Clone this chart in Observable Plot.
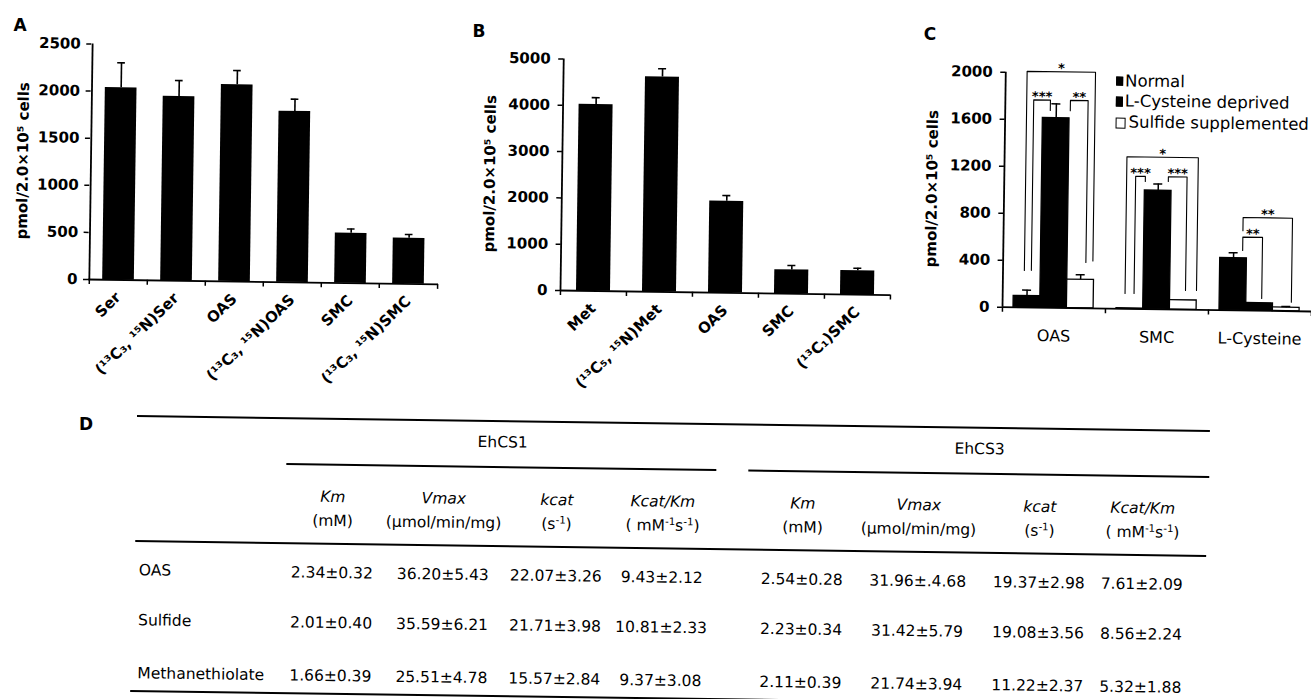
<!DOCTYPE html>
<html>
<head>
<meta charset="utf-8">
<script src="https://cdn.jsdelivr.net/npm/d3@7"></script>
<script src="https://cdn.jsdelivr.net/npm/@observablehq/plot@0.6"></script>
<style>
html, body { margin:0; padding:0; background:#fff; }
#fig { position:relative; width:1311px; height:699px; overflow:hidden; background:#fff; color:#000;
       font-family:"DejaVu Sans","Liberation Sans",sans-serif; }
.panel { position:absolute; }
.abs { position:absolute; white-space:nowrap; line-height:1; }
.rule { position:absolute; background:#000; }
.sw { position:absolute; box-sizing:border-box; }
sup { font-size:0.66em; vertical-align:0.55em; line-height:0; }
.letter { position:absolute; font-weight:bold; font-size:17px; line-height:1; transform:translate(-50%,-50%); }
</style>
</head>
<body>
<div id="fig"></div>
<script>
// ---------------- DATA ----------------
// Panel A
const catsA = ["Ser", "(¹³C₃, ¹⁵N)Ser", "OAS", "(¹³C₃, ¹⁵N)OAS", "SMC", "(¹³C₃, ¹⁵N)SMC"];
const valsA = [2040, 1955, 2090, 1815, 530, 485];
const errsA = [265, 170, 150, 130, 45, 40];
const ticksA = [0, 500, 1000, 1500, 2000, 2500];
// Panel B
const catsB = ["Met", "(¹³C₅, ¹⁵N)Met", "OAS", "SMC", "(¹³C₁)SMC"];
const valsB = [4030, 4640, 1980, 515, 515];
const errsB = [145, 180, 120, 95, 55];
const ticksB = [0, 1000, 2000, 3000, 4000, 5000];
// Panel C
const groupsC = ["OAS", "SMC", "L-Cysteine"];
const seriesC = ["Normal", "L-Cysteine deprived", "Sulfide supplemented"];
const normalC = [98, 5, 445];
const normalErrC = [50, 0, 46];
const deprivedC = [1615, 1010, 65];
const deprivedErrC = [122, 57, 0];
const sulfideC = [243, 80, 30];
const sulfideErrC = [42, 0, 10];
const ticksC = [0, 400, 800, 1200, 1600, 2000];
const bracketsC = [
  {group: "OAS", from: "Normal", to: "Sulfide supplemented", top: 2010, leftEnd: 315, rightEnd: 405, label: "*"},
  {group: "OAS", from: "Normal", to: "L-Cysteine deprived", top: 1768, leftEnd: 317, rightEnd: 1680, label: "***"},
  {group: "OAS", from: "L-Cysteine deprived", to: "Sulfide supplemented", top: 1768, leftEnd: 1680, rightEnd: 390, label: "**"},
  {group: "SMC", from: "Normal", to: "Sulfide supplemented", top: 1295, leftEnd: 131, rightEnd: 165, label: "*"},
  {group: "SMC", from: "Normal", to: "L-Cysteine deprived", top: 1130, leftEnd: 133, rightEnd: 1087, label: "***"},
  {group: "SMC", from: "L-Cysteine deprived", to: "Sulfide supplemented", top: 1130, leftEnd: 1089, rightEnd: 164, label: "***"},
  {group: "L-Cysteine", from: "Normal", to: "Sulfide supplemented", top: 792, leftEnd: 680, rightEnd: 77, label: "**"},
  {group: "L-Cysteine", from: "Normal", to: "L-Cysteine deprived", top: 625, leftEnd: 511, rightEnd: 105, label: "**"}
];
const yLabel = "pmol/2.0×10⁵ cells";
// Panel D (table)
const substrates = ["OAS", "Sulfide", "Methanethiolate"];
const enzymes = ["EhCS1", "EhCS3"];
const paramNames = ["Km", "Vmax", "kcat", "Kcat/Km"];
const paramUnits = ["(mM)", "(μmol/min/mg)", "(s<sup>-1</sup>)", "( mM<sup>-1</sup>s<sup>-1</sup>)"];
const kineticsEhCS1 = [
  ["2.34±0.32", "36.20±5.43", "22.07±3.26", "9.43±2.12"],
  ["2.01±0.40", "35.59±6.21", "21.71±3.98", "10.81±2.33"],
  ["1.66±0.39", "25.51±4.78", "15.57±2.84", "9.37±3.08"]
];
const kineticsEhCS3 = [
  ["2.54±0.28", "31.96±.4.68", "19.37±2.98", "7.61±2.09"],
  ["2.23±0.34", "31.42±5.79", "19.08±3.56", "8.56±2.24"],
  ["2.11±0.39", "21.74±3.94", "11.22±2.37", "5.32±1.88"]
];

// ---------------- LAYOUT / STYLE ----------------
const FONT = '"DejaVu Sans","Liberation Sans",sans-serif';
const ROT = 0.8; // slight tilt of the scanned original
const fig = document.getElementById("fig");
// bracket leg nudges in px (left leg, right leg) relative to bar centres
const bracketNudgePx = [[-3, 12], [4, -6], [14, 5], [-5, 13], [4, -13], [10, 2], [9, 5], [9, 2]];
const axisStyle = {background: "transparent", overflow: "visible", fontFamily: FONT, fontSize: "15px", fontWeight: "bold", color: "#000"};

function mount(node, left, top, w, h, ox, oy) {
  const div = document.createElement("div");
  div.className = "panel";
  Object.assign(div.style, {
    left: left + "px", top: top + "px", width: w + "px", height: h + "px",
    transformOrigin: (ox - left) + "px " + (oy - top) + "px",
    transform: "rotate(" + ROT + "deg)"
  });
  if (node) div.appendChild(node);
  fig.appendChild(div);
  return div;
}

function letter(t, x, y) {
  const d = document.createElement("div");
  d.className = "letter"; d.textContent = t;
  d.style.left = x + "px"; d.style.top = y + "px";
  fig.appendChild(d);
}

function barPanel(cfg) {
  const {cats, vals, errs, ticks, w, h, ml, mr, mt, mb, barW, capW, labelDx, tickPad} = cfg;
  const data = cats.map((c, i) => ({cat: c, value: vals[i], err: errs[i]}));
  const bw = (w - ml - mr) / cats.length;
  const ymax = ticks[ticks.length - 1];
  const inset = (bw - barW) / 2, capInset = (bw - capW) / 2;
  return Plot.plot({
    width: w, height: h, marginLeft: ml, marginRight: mr, marginTop: mt, marginBottom: mb,
    style: axisStyle,
    x: {type: "band", domain: cats, padding: 0, label: null},
    y: {domain: [0, ymax], label: null},
    marks: [
      Plot.barY(data, {x: "cat", y: "value", fill: "#000", insetLeft: inset, insetRight: inset}),
      Plot.ruleX(data, {x: "cat", y1: "value", y2: d => d.value + d.err, stroke: "#000", strokeWidth: 1.6}),
      Plot.tickY(data, {x: "cat", y: d => d.value + d.err, stroke: "#000", strokeWidth: 1.6, insetLeft: capInset, insetRight: capInset}),
      Plot.ruleY([0], {stroke: "#000", strokeWidth: 1.8}),
      Plot.ruleX([cats[0]], {y1: 0, y2: ymax, dx: -bw / 2, stroke: "#000", strokeWidth: 1.8}),
      Plot.axisY({ticks, tickFormat: "d", tickSize: 5, tickPadding: tickPad, strokeWidth: 1.5, label: null}),
      Plot.axisX({tickSize: 0, tickPadding: 15, tickRotate: -45, label: null}),
      Plot.axisX({ticks: cats, tickSize: 5, tickFormat: () => "", dx: -bw / 2, strokeWidth: 1.5, label: null}),
      Plot.axisX({ticks: [cats[cats.length - 1]], tickSize: 5, tickFormat: () => "", dx: bw / 2, strokeWidth: 1.5, label: null}),
      Plot.text([yLabel], {frameAnchor: "left", dx: labelDx, rotate: -90, textAnchor: "middle", lineAnchor: "middle", fontSize: 15, fontWeight: "bold", fill: "#000"})
    ]
  });
}

// ---------------- PANEL A ----------------
mount(barPanel({cats: catsA, vals: valsA, errs: errsA, ticks: ticksA,
  w: 450, h: 400, ml: 88, mr: 12, mt: 43.5, mb: 121, barW: 32, capW: 8, labelDx: -67, tickPad: 6}),
  0, 0, 450, 400, 88, 279);

// ---------------- PANEL B ----------------
mount(barPanel({cats: catsB, vals: valsB, errs: errsB, ticks: ticksB,
  w: 460, h: 400, ml: 120, mr: 10, mt: 58.5, mb: 110, barW: 34, capW: 8, labelDx: -72, tickPad: 8}),
  440, 0, 460, 400, 560, 290);

// ---------------- PANEL C ----------------
(function () {
  const w = 431, h = 330, ml = 122, mr = 0, mt = 41.7, mb = 53.3;
  const groupPx = (w - ml - mr) / groupsC.length;
  const bf = 26.7 / groupPx, pf = 11 / groupPx;
  const valsC = [normalC, deprivedC, sulfideC];
  const errsC = [normalErrC, deprivedErrC, sulfideErrC];
  const fills = ["#000", "#000", "#fff"];
  const rows = groupsC.flatMap((g, gi) => seriesC.map((s, si) => ({g, s, gi, si, value: valsC[si][gi], err: errsC[si][gi]})));
  const xc = d => d.gi + pf + (d.si + 0.5) * bf;
  const capHalf = 4.5 / groupPx;
  const withErr = rows.filter(d => d.err > 0);
  const pts = [], labs = [];
  bracketsC.forEach((b, i) => {
    const gi = groupsC.indexOf(b.group);
    const [nl, nr] = bracketNudgePx[i];
    const xl = gi + pf + (seriesC.indexOf(b.from) + 0.5) * bf + nl / groupPx;
    const xr = gi + pf + (seriesC.indexOf(b.to) + 0.5) * bf + nr / groupPx;
    pts.push({id: i, x: xl, y: b.leftEnd}, {id: i, x: xl, y: b.top}, {id: i, x: xr, y: b.top}, {id: i, x: xr, y: b.rightEnd});
    labs.push({x: (xl + xr) / 2, y: b.top, label: b.label});
  });
  const ymax = ticksC[ticksC.length - 1];
  const svg = Plot.plot({
    width: w, height: h, marginLeft: ml, marginRight: mr, marginTop: mt, marginBottom: mb,
    style: axisStyle,
    x: {domain: [0, groupsC.length], label: null},
    y: {domain: [0, ymax], label: null},
    marks: [
      Plot.rect(rows, {x1: d => d.gi + pf + d.si * bf, x2: d => d.gi + pf + (d.si + 1) * bf, y1: 0, y2: "value",
        fill: d => fills[d.si], stroke: "#000", strokeWidth: 1.3}),
      Plot.ruleX(withErr, {x: xc, y1: "value", y2: d => d.value + d.err, stroke: "#000", strokeWidth: 1.5}),
      Plot.ruleY(withErr, {y: d => d.value + d.err, x1: d => xc(d) - capHalf, x2: d => xc(d) + capHalf, stroke: "#000", strokeWidth: 1.5}),
      Plot.line(pts, {x: "x", y: "y", z: "id", stroke: "#000", strokeWidth: 1.1}),
      Plot.text(labs, {x: "x", y: "y", text: "label", lineAnchor: "bottom", dy: 1, fontSize: 13, fontWeight: "bold", fill: "#000"}),
      Plot.ruleY([0], {stroke: "#000", strokeWidth: 1.8}),
      Plot.ruleX([0], {y1: 0, y2: ymax, stroke: "#000", strokeWidth: 1.8}),
      Plot.axisY({ticks: ticksC, tickFormat: "d", tickSize: 5, tickPadding: 8, strokeWidth: 1.5, label: null}),
      Plot.axisX({ticks: groupsC.map((g, i) => i + 0.5), tickFormat: v => groupsC[Math.floor(v)], tickSize: 0, tickPadding: 22,
        fontWeight: "normal", fontSize: 16, label: null}),
      Plot.axisX({ticks: d3.range(groupsC.length + 1), tickFormat: () => "", tickSize: 5, strokeWidth: 1.5, label: null}),
      Plot.text([yLabel], {frameAnchor: "left", dx: -72, rotate: -90, textAnchor: "middle", lineAnchor: "middle", fontSize: 15, fontWeight: "bold", fill: "#000"})
    ]
  });
  const div = mount(svg, 880, 30, w, h, 1002, 306.7);
  // legend
  const swatches = [
    {w: 7, h: 9, fill: "#000"}, {w: 7, h: 10, fill: "#000"}, {w: 10, h: 11, fill: "#fff"}
  ];
  const rowCy = [49.5, 69.5, 91];
  seriesC.forEach((s, i) => {
    const sw = document.createElement("div");
    sw.className = "sw";
    Object.assign(sw.style, {left: "233px", top: (rowCy[i] - swatches[i].h / 2) + "px", width: swatches[i].w + "px",
      height: swatches[i].h + "px", background: swatches[i].fill, border: "1.3px solid #000"});
    div.appendChild(sw);
    const t = document.createElement("div");
    t.className = "abs"; t.textContent = s;
    Object.assign(t.style, {left: (i === 2 ? 246 : 242) + "px", top: rowCy[i] + "px", fontSize: "16.5px", transform: "translate(0,-50%)"});
    div.appendChild(t);
  });
})();

// ---------------- PANEL D (table) ----------------
(function () {
  const div = mount(null, 0, 0, 1311, 699, 137, 416);
  const FS = 15.5;
  function txt(html, x, y, align) {
    const d = document.createElement("div");
    d.className = "abs"; d.innerHTML = html;
    Object.assign(d.style, {left: x + "px", top: y + "px", fontSize: FS + "px",
      transform: align === "left" ? "translate(0,-50%)" : "translate(-50%,-50%)"});
    div.appendChild(d);
  }
  function rule(x1, x2, y, t) {
    const r = document.createElement("div");
    r.className = "rule";
    Object.assign(r.style, {left: x1 + "px", top: (y - t / 2) + "px", width: (x2 - x1) + "px", height: t + "px"});
    div.appendChild(r);
  }
  const colX = [[334, 445, 558, 664], [804, 920, 1041, 1144]];
  const groupX = [503, 980];
  const subRule = [[287, 717], [749, 1210]];
  const rowY = [571, 621, 674];
  const kin = [kineticsEhCS1, kineticsEhCS3];
  rule(137, 1210, 416, 2.8);
  rule(137, 1208, 541, 2.2);
  rule(134, 1210, 691, 2.4);
  enzymes.forEach((e, ei) => {
    txt(e, groupX[ei], 438);
    rule(subRule[ei][0], subRule[ei][1], 462, 2.2);
    paramNames.forEach((p, pi) => {
      txt("<i>" + p + "</i>", colX[ei][pi], 495);
      txt(paramUnits[pi], colX[ei][pi], 519);
    });
    substrates.forEach((s, si) => {
      kin[ei][si].forEach((v, pi) => txt(v, colX[ei][pi], rowY[si]));
    });
  });
  substrates.forEach((s, si) => txt(s, 141, rowY[si], "left"));
})();

letter("A", 20, 25);
letter("B", 479, 31);
letter("C", 930, 34);
letter("D", 86, 424);
</script>
</body>
</html>
